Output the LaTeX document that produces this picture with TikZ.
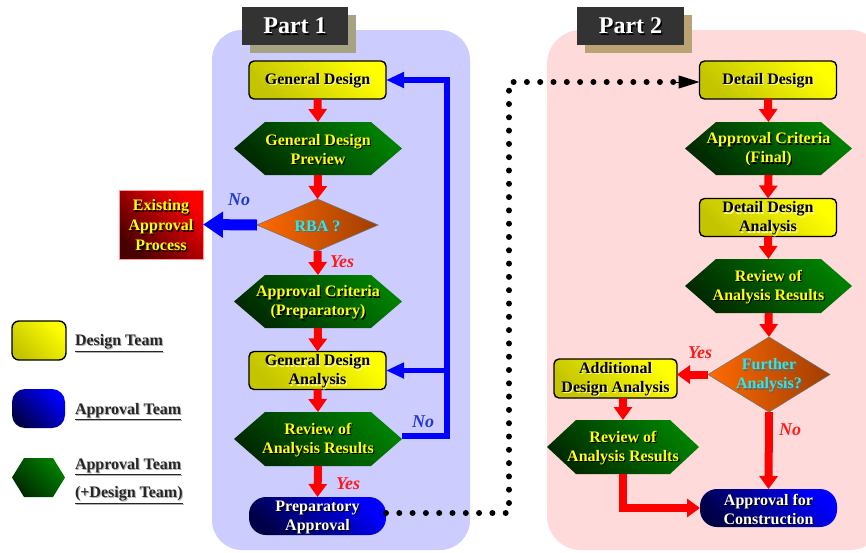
\documentclass[tikz,border=0pt]{standalone}
\usepackage{fontspec}
\setmainfont{Liberation Serif}
\usetikzlibrary{arrows.meta,shapes.geometric}
\definecolor{pone}{HTML}{CCCCFF}
\definecolor{ptwo}{HTML}{FFDADA}
\definecolor{hdrdark}{HTML}{333333}
\definecolor{shone}{HTML}{A6A383}
\definecolor{shtwo}{HTML}{B9A274}
\definecolor{ylw}{HTML}{FFFF00}
\definecolor{ylwdark}{HTML}{C4C400}
\definecolor{grn}{HTML}{008000}
\definecolor{grndark}{HTML}{002A00}
\definecolor{blu}{HTML}{0000FF}
\definecolor{bludark}{HTML}{000048}
\definecolor{rdd}{HTML}{FF0000}
\definecolor{rdddark}{HTML}{480000}
\definecolor{orgL}{HTML}{FF6A00}
\definecolor{orgR}{HTML}{A03E00}
\definecolor{cyantxt}{HTML}{33E6E6}
\definecolor{txtyel}{HTML}{FFFF10}
\definecolor{nolbl}{HTML}{2038D0}
\definecolor{yeslbl}{HTML}{FF1A1A}
\definecolor{arrred}{HTML}{FF0000}
\definecolor{arrblue}{HTML}{0000FF}
\tikzset{
  every node/.style={inner sep=0pt, outer sep=0pt},
  ybox/.style={rectangle, rounded corners=5pt, draw=black, line width=1.4pt,
    minimum width=137pt, minimum height=38pt,
    top color=ylw, bottom color=ylwdark, shading angle=-45},
  bbox/.style={rectangle, rounded corners=17pt,
    minimum width=137pt, minimum height=38pt,
    top color=blu, bottom color=bludark, shading angle=-45},
  hexbox/.style={rectangle, minimum width=168pt, minimum height=53pt},
  hexshade/.style={top color=grn, bottom color=grndark, shading angle=-45},
  dia/.style={diamond, draw=black!55, line width=0.6pt, left color=orgL, right color=orgR},
  txt/.style={font=\fontsize{16}{19}\selectfont\bfseries, align=center, yshift=-1pt},
  lgtxt/.style={font=\fontsize{16}{19}\selectfont\bfseries, anchor=west},
  hdrtxt/.style={font=\fontsize{24}{28}\selectfont\bfseries},
  nolabel/.style={font=\fontsize{18}{20}\selectfont\bfseries\itshape, text=nolbl},
  yeslabel/.style={font=\fontsize{18}{20}\selectfont\bfseries\itshape, text=yeslbl},
  redarrow/.style={draw=arrred, line width=8pt, line join=miter,
    -{Triangle[width=18pt,length=13pt]}},
  bluearrow/.style={draw=arrblue, line width=5.5pt, line join=miter,
    -{Triangle[width=15pt,length=18pt]}},
  bigblue/.style={draw=arrblue, line width=11pt,
    -{Triangle[width=25pt,length=20pt]}},
  dotline/.style={draw=black, line width=6pt, line cap=round,
    dash pattern=on 0pt off 13.3pt},
}
% hexagon drawn over an invisible rectangle node
\newcommand\hexpath[2]{%
  \shade[hexshade] (#1.west) -- ([xshift=#2]#1.north west) -- ([xshift=-#2]#1.north east)
    -- (#1.east) -- ([xshift=-#2]#1.south east) -- ([xshift=#2]#1.south west) -- cycle;}
% text with drop shadow: name, fg, shadow, text
\newcommand\ntext[4]{%
  \node[txt, text=#3, xshift=1.2pt, yshift=-1.2pt] (#1-s) at (#1) {#4};
  \node[txt, text=#2] (#1-t) at (#1) {#4};}
\begin{document}
\begin{tikzpicture}[x=1pt,y=-1pt]
\useasboundingbox (0,0) rectangle (866,552);
\clip (0,0) rectangle (866,552);
\fill[white] (0,0) rectangle (866,552);
% panels
\fill[pone, rounded corners=30pt] (212,30) rectangle (470,550);
\fill[ptwo, rounded corners=34pt] (547,30) rectangle (884,550);
% headers
\fill[shone] (250,15) rectangle (356,53);
\node[fill=hdrdark, minimum width=106pt, minimum height=38pt] (h1) at (295,26) {};
\node[hdrtxt, text=black, xshift=1.5pt, yshift=-1.5pt] (h1-s) at (h1) {Part 1};
\node[hdrtxt, text=white] (h1-t) at (h1) {Part 1};
\fill[shtwo] (585,15) rectangle (692,53);
\node[fill=hdrdark, minimum width=107pt, minimum height=38pt] (h2) at (630.5,26) {};
\node[hdrtxt, text=black, xshift=1.5pt, yshift=-1.5pt] (h2-s) at (h2) {Part 2};
\node[hdrtxt, text=white] (h2-t) at (h2) {Part 2};

% ---------- Part 1 ----------
\node[ybox] (gd) at (317.5,80) {};
\ntext{gd}{black}{white!60!yellow}{General Design}
\node[hexbox] (gdp) at (318,148.5) {};
\hexpath{gdp}{31pt}
\ntext{gdp}{txtyel}{black}{General Design\\Preview}
\node[dia, minimum width=121pt, minimum height=52pt] (rba) at (317.5,225) {};
\ntext{rba}{cyantxt}{black!60}{RBA ?}
\node[hexbox] (ac) at (318,301.5) {};
\hexpath{ac}{31pt}
\ntext{ac}{txtyel}{black}{Approval Criteria\\(Preparatory)}
\node[ybox] (gda) at (317.5,370.5) {};
\ntext{gda}{black}{white!60!yellow}{General Design\\Analysis}
\node[hexbox, minimum height=54pt] (rev) at (318,439) {};
\hexpath{rev}{31pt}
\ntext{rev}{txtyel}{black}{Review of\\Analysis Results}
\node[bbox] (pa) at (317.5,516) {};
\ntext{pa}{white}{black}{Preparatory\\Approval}

% existing approval process
\node[rectangle, minimum width=84pt, minimum height=69pt,
  top color=rdd, bottom color=rdddark, shading angle=-45,
  draw=red!40!white, line width=0.5pt] (ex) at (161,224.5) {};
\node[txt, text=black, xshift=1.2pt, yshift=-1.2pt, font=\fontsize{16}{20}\selectfont\bfseries] (ex-s) at (ex) {Existing\\Approval\\Process};
\node[txt, text=txtyel, font=\fontsize{16}{20}\selectfont\bfseries] (ex-t) at (ex) {Existing\\Approval\\Process};

% arrows part 1
\draw[redarrow] (gd.south) -- (gdp.north);
\draw[redarrow] (gdp.south) -- (rba.north);
\draw[redarrow] (rba.south) -- (ac.north);
\draw[redarrow] (ac.south) -- (gda.north);
\draw[redarrow] (gda.south) -- (rev.north);
\draw[redarrow] (rev.south) -- (pa.north);
\draw[bigblue] (rba.west) -- (ex.east);
\coordinate (bl) at (447,436);
\draw[bluearrow] (rev.east |- bl) -- (bl) |- (gd.east);
\draw[bluearrow] (bl |- gda.east) -- (gda.east);
\node[nolabel] (no1) at (239,200) {No};
\node[yeslabel] (yes1) at (342,262) {Yes};
\node[nolabel] (no2) at (423,422) {No};
\node[yeslabel] (yes2) at (348,484) {Yes};

% ---------- Part 2 ----------
\node[ybox] (dd) at (768,80) {};
\ntext{dd}{black}{white!60!yellow}{Detail Design}
\node[hexbox, minimum width=167pt] (acf) at (768.5,148.5) {};
\hexpath{acf}{31pt}
\ntext{acf}{txtyel}{black}{Approval Criteria\\(Final)}
\node[ybox] (dda) at (768,217.5) {};
\ntext{dda}{black}{white!60!yellow}{Detail Design\\Analysis}
\node[hexbox, minimum width=167pt, minimum height=54pt] (rv2) at (768.5,286) {};
\hexpath{rv2}{31pt}
\ntext{rv2}{txtyel}{black}{Review of\\Analysis Results}
\node[dia, minimum width=122pt, minimum height=75pt] (fa) at (769,374.5) {};
\ntext{fa}{cyantxt}{black!60}{Further\\Analysis?}
\node[ybox, minimum width=123pt, minimum height=39pt] (ada) at (615.5,378.5) {};
\ntext{ada}{black}{white!60!yellow}{Additional\\Design Analysis}
\node[hexbox, minimum width=152pt, minimum height=54pt] (rv3) at (623,447) {};
\hexpath{rv3}{29pt}
\ntext{rv3}{txtyel}{black}{Review of\\Analysis Results}
\node[bbox] (afc) at (768.5,508) {};
\ntext{afc}{white}{black}{Approval for\\Construction}

% arrows part 2
\draw[redarrow] (dd.south) -- (acf.north);
\draw[redarrow] (acf.south) -- (dda.north);
\draw[redarrow] (dda.south) -- (rv2.north);
\draw[redarrow] (rv2.south) -- (fa.north);
\draw[redarrow] (fa.west) -- (fa.west -| ada.east);
\draw[redarrow] (fa.south) -- (afc.north);
\draw[redarrow] (rv3.north |- ada.south) -- (rv3.north);
\draw[redarrow] (rv3.south) |- (afc.west);
\node[yeslabel] (yes3) at (700,353) {Yes};
\node[nolabel, text=yeslbl] (no3) at (790,430) {No};

% dotted connector
\coordinate (dc) at (509,513);
\coordinate (da) at (676,82);
\draw[dotline] (pa.east |- dc) -- (dc) |- (da);
\draw[-{Triangle[width=13pt,length=21pt]}, line width=1pt] (da) -- (dd.west |- da);

% ---------- legend ----------
\node[ybox, rounded corners=7pt, minimum width=54pt, minimum height=39pt] (ly) at (39,340.5) {};
\node[rectangle, rounded corners=13pt, minimum width=53pt, minimum height=39pt,
  top color=blu, bottom color=bludark, shading angle=-45] (lb) at (38.5,408.5) {};
\node[hexbox, minimum width=53pt, minimum height=39pt] (lg) at (38.5,477.5) {};
\hexpath{lg}{12pt}
\node[lgtxt, text=black!30, xshift=1pt, yshift=-1pt] (l1s) at (75,343) {\underline{Design Team}};
\node[lgtxt, text=black!85] (l1) at (75,343) {\underline{Design Team}};
\node[lgtxt, text=black!30, xshift=1pt, yshift=-1pt] (l2s) at (75,412) {\underline{Approval Team}};
\node[lgtxt, text=black!85] (l2) at (75,412) {\underline{Approval Team}};
\node[lgtxt, text=black!30, xshift=1pt, yshift=-1pt] (l3s) at (75,467) {\underline{Approval Team}};
\node[lgtxt, text=black!85] (l3) at (75,467) {\underline{Approval Team}};
\node[lgtxt, text=black!30, xshift=1pt, yshift=-1pt] (l4s) at (75,495) {\underline{(+Design Team)}};
\node[lgtxt, text=black!85] (l4) at (75,495) {\underline{(+Design Team)}};
\end{tikzpicture}
\end{document}
